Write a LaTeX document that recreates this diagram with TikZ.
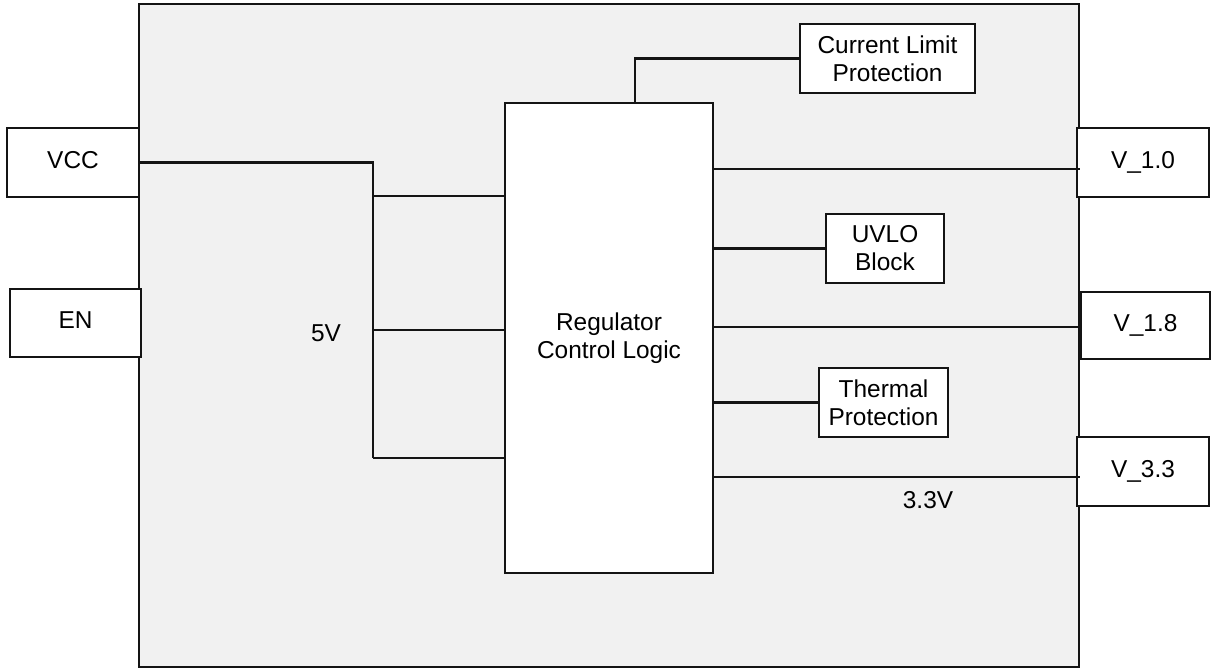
\documentclass[tikz,border=0pt]{standalone}
\usepackage{fontspec}
\setmainfont{Liberation Sans}
\usetikzlibrary{positioning,calc}
\definecolor{chipbg}{RGB}{241,241,241}
\definecolor{wire}{RGB}{20,20,20}

\begin{document}
\begin{tikzpicture}[x=0.2mm,y=-0.2mm,line width=1.2pt,
  every node/.style={font=\fontsize{13.9}{16}\selectfont,align=center,inner sep=0pt},
  blk/.style={draw=wire,fill=white,minimum height=13.8mm}]
  \useasboundingbox (0,0) rectangle (1211,669);

  \node[draw=wire,fill=chipbg,minimum width=188mm,minimum height=132.6mm] (chip) at (609,335.5) {};

  \node[blk,minimum width=26.4mm] (vcc) at (73,162.5) {VCC\vphantom{p}};
  \node[blk,minimum width=26.2mm,minimum height=13.6mm] (en) at (75.5,323) {EN\vphantom{p}};
  \node[blk,minimum width=41.6mm,minimum height=94mm] (ctrl) at (609,338) {Regulator\\Control Logic};
  \node[blk,minimum width=35mm] (clp) at (887.5,58.5) {Current Limit\\Protection};
  \node[blk,minimum width=23.6mm] (uvlo) at (885,248.5) {UVLO\\Block};
  \node[blk,minimum width=25.8mm] (thermal) at (883.5,402.5) {Thermal\\Protection};
  \node[blk,minimum width=26.4mm] (v10) at (1143,162.5) {V\_1.0};
  \node[blk,minimum width=25.8mm,minimum height=13.4mm] (v18) at (1145.5,325.5) {V\_1.8};
  \node[blk,minimum width=26.4mm] (v33) at (1143,471.5) {V\_3.3};

  \node (lbl5v) at (326,333) {5V};
  \node (lbl33v) at (928,500) {3.3V};

  \coordinate (b1) at (373,196);
  \coordinate (b2) at (373,330);
  \coordinate (b3) at (373,458);
  \coordinate (cltap) at (635,103);

  \draw[wire] (vcc.east) -| (b3);
  \draw[wire] (b1) -- (b1 -| ctrl.west);
  \draw[wire] (b2) -- (b2 -| ctrl.west);
  \draw[wire] (b3) -- (b3 -| ctrl.west);

  \draw[wire] (clp.west) -| (cltap);
  \draw[wire] (uvlo.west) -- (uvlo.west -| ctrl.east);
  \draw[wire] (thermal.west) -- (thermal.west -| ctrl.east);

  \draw[wire] (ctrl.east |- 0,169) -- (chip.east |- 0,169);
  \draw[wire] (ctrl.east |- 0,327) -- (v18.west |- 0,327);
  \draw[wire] (ctrl.east |- 0,477) -- (chip.east |- 0,477);
\end{tikzpicture}
\end{document}
